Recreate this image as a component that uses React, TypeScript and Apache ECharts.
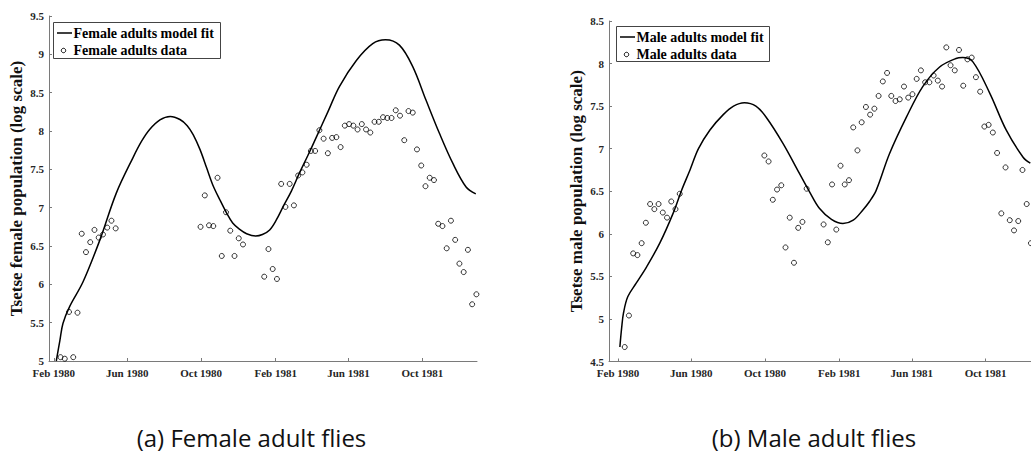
import { useEffect, useRef } from "react";
import * as echarts from "echarts";

const DAY = 86400000;
const ORIGIN = Date.UTC(1980, 1, 1); // Feb 1 1980

// ---- x-axis ticks ----
const tickDates = ["1980-02-01", "1980-06-01", "1980-10-01", "1981-02-01", "1981-06-01", "1981-10-01"];
const tickLabels = ["Feb 1980", "Jun 1980", "Oct 1980", "Feb 1981", "Jun 1981", "Oct 1981"];

// ---- sampling dates ----
const datesSpring1980 = [
  "1980-02-12", "1980-02-19", "1980-02-26", "1980-03-04", "1980-03-11", "1980-03-18", "1980-03-25",
  "1980-04-01", "1980-04-08", "1980-04-15", "1980-04-22", "1980-04-29", "1980-05-06", "1980-05-13",
];
const datesAutumn1980 = [
  "1980-09-30", "1980-10-07", "1980-10-14", "1980-10-21", "1980-10-28", "1980-11-04", "1980-11-11",
  "1980-11-18", "1980-11-25", "1980-12-02", "1980-12-09",
];
const dates1981 = [
  "1981-01-06", "1981-01-13", "1981-01-20", "1981-01-27", "1981-02-03", "1981-02-10", "1981-02-17",
  "1981-02-24", "1981-03-03", "1981-03-10", "1981-03-17", "1981-03-24", "1981-03-31", "1981-04-07",
  "1981-04-14", "1981-04-21", "1981-04-28", "1981-05-05", "1981-05-12", "1981-05-19", "1981-05-26",
  "1981-06-02", "1981-06-09", "1981-06-16", "1981-06-23", "1981-06-30", "1981-07-07", "1981-07-14",
  "1981-07-21", "1981-07-28", "1981-08-04", "1981-08-11", "1981-08-18", "1981-08-25", "1981-09-01",
  "1981-09-08", "1981-09-15", "1981-09-22", "1981-09-29", "1981-10-06", "1981-10-13", "1981-10-20",
  "1981-10-27", "1981-11-03", "1981-11-10", "1981-11-17", "1981-11-24", "1981-12-01", "1981-12-08",
  "1981-12-15", "1981-12-22", "1981-12-29",
];

// ---- female data (log scale) ----
const femaleSpring1980 = [5.05, 5.03, 5.64, 5.05, 5.63, 6.66, 6.42, 6.55, 6.71, 6.61, 6.65, 6.74, 6.83, 6.73];
const femaleAutumn1980 = [6.75, 7.16, 6.77, 6.76, 7.39, 6.37, 6.94, 6.70, 6.37, 6.60, 6.52];
const female1981 = [
  null, 6.10, 6.46, 6.20, 6.07, 7.31, 7.01, 7.31, 7.03, 7.42, 7.46, 7.56, 7.74, 7.74, 8.01, 7.90, 7.71,
  7.91, 7.92, 7.79, 8.07, 8.09, 8.07, 8.02, 8.09, 8.02, 7.98, 8.12, 8.12, 8.18, 8.17, 8.17, 8.27, 8.20,
  7.88, 8.26, 8.24, 7.76, 7.55, 7.28, 7.39, 7.36, 6.79, 6.76, 6.47, 6.83, 6.58, 6.27, 6.16, 6.45, 5.74,
  5.87,
];

// ---- male data (log scale) ----
const maleSpring1980 = [4.67, 5.04, 5.77, 5.75, 5.89, 6.13, 6.35, 6.29, 6.35, 6.25, 6.19, 6.38, 6.29, 6.47];
const maleAutumn1980 = [6.92, 6.85, 6.40, 6.52, 6.57, 5.84, 6.19, 5.66, 6.07, 6.14, 6.53];
const male1981 = [
  6.11, 5.90, 6.58, 6.05, 6.80, 6.58, 6.63, 7.25, 6.98, 7.31, 7.49, 7.40, 7.47, 7.62, 7.79, 7.89, 7.62,
  7.56, 7.58, 7.73, 7.60, 7.64, 7.82, 7.92, 7.78, 7.78, 7.86, 7.80, 7.73, 8.19, 7.98, 7.92, 8.16, 7.74,
  8.05, 8.07, 7.84, 7.67, 7.26, 7.28, 7.19, 6.95, 6.24, 6.78, 6.16, 6.04, 6.15, 6.75, 6.35, 5.89, null,
  null,
];

// ---- model fits (days after 1 Feb 1980, value) ----
const femaleFitDays = [
  4, 10, 15, 26, 48, 76, 103, 131, 145, 158, 175, 192, 208, 220, 230, 241, 252, 262, 274, 285, 295, 306,
  318, 333, 344, 356, 367, 378, 392, 405, 419, 433, 452, 471, 499, 526, 547, 570, 592, 614, 636, 658,
  680, 696,
];
const femaleFitValues = [
  5.0, 5.27, 5.49, 5.71, 6.03, 6.58, 7.19, 7.66, 7.87, 8.02, 8.145, 8.19, 8.15, 8.07, 7.95, 7.76, 7.52,
  7.3, 7.1, 6.93, 6.8, 6.72, 6.66, 6.63, 6.65, 6.71, 6.84, 7.01, 7.22, 7.45, 7.68, 7.92, 8.25, 8.58,
  8.92, 9.14, 9.19, 9.12, 8.84, 8.4, 7.97, 7.58, 7.27, 7.18,
];
const maleFitDays = [
  3, 6, 9, 16, 30, 47, 69, 91, 105, 119, 133, 152, 174, 191, 209, 228, 245, 273, 300, 317, 333, 353, 372,
  389, 405, 416, 427, 449, 477, 504, 532, 559, 570, 587, 615, 642, 670, 682,
];
const maleFitValues = [
  4.67, 4.9, 5.07, 5.26, 5.42, 5.61, 5.89, 6.24, 6.51, 6.75, 7.0, 7.22, 7.4, 7.5, 7.54, 7.5, 7.37, 7.06,
  6.71, 6.49, 6.3, 6.17, 6.12, 6.16, 6.28, 6.38, 6.51, 6.94, 7.37, 7.73, 7.96, 8.06, 8.07, 8.02, 7.65,
  7.22, 6.9, 6.83,
];

const SERIF = '"Liberation Serif", "Times New Roman", serif';
const AXIS_GRAY = "#7a7a7a";
const LABEL_COLOR = "#262626";

const tickTimes = tickDates.map((d) => Date.parse(d));

function points(dates: string[], values: (number | null)[]) {
  const out: [number, number][] = [];
  dates.forEach((d, i) => {
    const v = values[i];
    if (v !== null && v !== undefined) out.push([Date.parse(d), v]);
  });
  return out;
}

function fitPoints(days: number[], values: number[]) {
  return days.map((d, i) => [ORIGIN + d * DAY, values[i]] as [number, number]);
}

function labelFor(v: number) {
  for (let i = 0; i < tickTimes.length; i++) {
    if (Math.abs(tickTimes[i] - v) < DAY) return tickLabels[i];
  }
  return "";
}

function makeX(gridIndex: number, startDay: number, endDay: number) {
  return {
    type: "value",
    gridIndex,
    min: ORIGIN + startDay * DAY,
    max: ORIGIN + endDay * DAY,
    axisLine: { show: true, lineStyle: { color: AXIS_GRAY, width: 1 } },
    axisTick: { show: true, inside: true, length: 3, customValues: tickTimes, lineStyle: { color: AXIS_GRAY } },
    axisLabel: {
      customValues: tickTimes,
      formatter: (v: number) => labelFor(v),
      margin: 6,
      lineHeight: 11,
      fontFamily: SERIF,
      fontWeight: "bold",
      fontSize: 11,
      color: LABEL_COLOR,
    },
    splitLine: { show: false },
  };
}

function makeY(gridIndex: number, min: number, max: number, name: string) {
  return {
    type: "value",
    gridIndex,
    min,
    max,
    interval: 0.5,
    name,
    nameLocation: "middle",
    nameGap: 24,
    nameTextStyle: { fontFamily: SERIF, fontWeight: "bold", fontSize: 17, color: "#111" },
    axisLine: { show: true, lineStyle: { color: AXIS_GRAY, width: 1 } },
    axisTick: { show: true, inside: true, length: 3, lineStyle: { color: AXIS_GRAY } },
    axisLabel: {
      margin: 5, lineHeight: 10, fontFamily: SERIF, fontWeight: "bold", fontSize: 11, color: LABEL_COLOR,
    },
    splitLine: { show: false },
  };
}

function fitSeries(name: string, idx: number, data: [number, number][]) {
  return {
    name,
    type: "line",
    xAxisIndex: idx,
    yAxisIndex: idx,
    data,
    smooth: 0.35,
    symbol: "none",
    showSymbol: false,
    lineStyle: { color: "#000", width: 1.5 },
    z: 2,
  };
}

function dataSeries(name: string, idx: number, data: [number, number][]) {
  return {
    name,
    type: "scatter",
    xAxisIndex: idx,
    yAxisIndex: idx,
    data,
    symbol: "circle",
    symbolSize: 5,
    itemStyle: { color: "rgba(0,0,0,0)", borderColor: "#000", borderWidth: 1 },
    z: 3,
  };
}

function legendBox(x: number, y: number, w: number, h: number, lineLabel: string, dotLabel: string) {
  const font = `bold 14px ${SERIF}`;
  return [
    { type: "rect", shape: { x, y, width: w, height: h }, style: { fill: "#fff", stroke: "#444", lineWidth: 1 }, z: 100 },
    { type: "line", shape: { x1: x + 3.5, y1: y + 10.5, x2: x + 18.5, y2: y + 10.5 }, style: { stroke: "#000", lineWidth: 1.5 }, z: 101 },
    {
      type: "text", x: x + 20, y: y + 10.5, z: 101,
      style: { text: lineLabel, font, fill: "#000", align: "left", verticalAlign: "middle", textAlign: "left", textVerticalAlign: "middle" },
    },
    { type: "circle", shape: { cx: x + 10, cy: y + 28, r: 2.2 }, style: { fill: "none", stroke: "#000", lineWidth: 1 }, z: 101 },
    {
      type: "text", x: x + 20, y: y + 27.5, z: 101,
      style: { text: dotLabel, font, fill: "#000", align: "left", verticalAlign: "middle", textAlign: "left", textVerticalAlign: "middle" },
    },
  ];
}

function caption(x: number, y: number, text: string) {
  return {
    type: "text", x, y, z: 101,
    style: {
      text, font: '24px "Open Sans", "Noto Sans", sans-serif', fill: "#111", lineHeight: 26,
      align: "center", verticalAlign: "middle", textAlign: "center", textVerticalAlign: "middle",
    },
  };
}

export default function App() {
  const ref = useRef<HTMLDivElement>(null);

  useEffect(() => {
    if (!ref.current) return;
    const chart = echarts.init(ref.current, undefined, { renderer: "svg" });

    const femaleData = [
      ...points(datesSpring1980, femaleSpring1980),
      ...points(datesAutumn1980, femaleAutumn1980),
      ...points(dates1981, female1981),
    ];
    const maleData = [
      ...points(datesSpring1980, maleSpring1980),
      ...points(datesAutumn1980, maleAutumn1980),
      ...points(dates1981, male1981),
    ];

    chart.setOption({
      animation: false,
      backgroundColor: "#fff",
      grid: [
        { left: 49, top: 16, width: 428, height: 345 },
        { left: 609, top: 21, width: 431, height: 340.5 },
      ],
      xAxis: [makeX(0, -8, 698), makeX(1, -15, 698)],
      yAxis: [
        makeY(0, 5, 9.5, "Tsetse female population (log scale)"),
        makeY(1, 4.5, 8.5, "Tsetse male population (log scale)"),
      ],
      series: [
        fitSeries("Female adults model fit", 0, fitPoints(femaleFitDays, femaleFitValues)),
        dataSeries("Female adults data", 0, femaleData),
        fitSeries("Male adults model fit", 1, fitPoints(maleFitDays, maleFitValues)),
        dataSeries("Male adults data", 1, maleData),
      ],
      graphic: [
        ...legendBox(53.5, 22.5, 167, 36, "Female adults model fit", "Female adults data"),
        ...legendBox(616.5, 26.5, 153, 35, "Male adults model fit", "Male adults data"),
        caption(251.5, 437, "(a) Female adult flies"),
        caption(814, 437, "(b) Male adult flies"),
      ],
    });

    return () => chart.dispose();
  }, []);

  return (
    <div style={{ position: "fixed", left: 0, top: 0, width: 1031, height: 453, overflow: "hidden", background: "#fff" }}>
      <div ref={ref} style={{ position: "absolute", left: 0, top: 0, width: 1045, height: 453 }} />
    </div>
  );
}
